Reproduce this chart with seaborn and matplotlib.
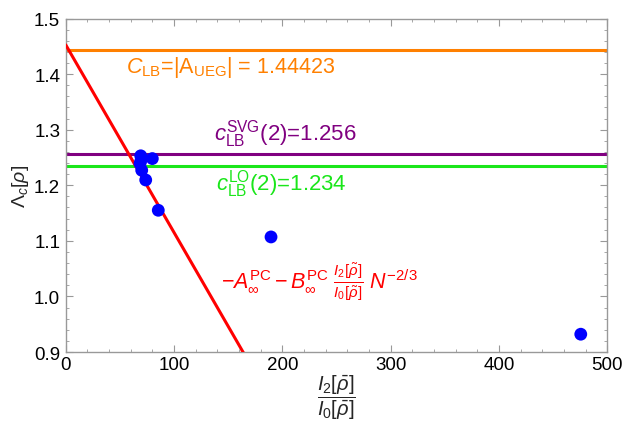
import matplotlib
matplotlib.use("Agg")
import matplotlib.pyplot as plt
import seaborn as sns
import pandas as pd
from matplotlib.ticker import MultipleLocator

# data
pts_x = [68.5, 69.2, 70.1, 73.8, 79.9, 85.4, 189.5, 475.5, 69.5]
pts_y = [1.239, 1.253, 1.227, 1.2095, 1.248, 1.155, 1.107, 0.932, 1.245]
fit_x = [0.0, 170.0]
fit_y = [1.4525, 0.8785]
hlines = {"orange": 1.44423, "purple": 1.256, "green": 1.234}
x_ticks = [0, 100, 200, 300, 400, 500]
y_ticks = [0.9, 1.0, 1.1, 1.2, 1.3, 1.4, 1.5]

sns.set_theme(style="ticks")
plt.rcParams["font.family"] = ["Liberation Sans", "DejaVu Sans"]
plt.rcParams["mathtext.fontset"] = "custom"
plt.rcParams["mathtext.rm"] = "Liberation Sans"
plt.rcParams["mathtext.it"] = "Liberation Sans:italic"
plt.rcParams["mathtext.bf"] = "Liberation Sans:bold"

fig = plt.figure(figsize=(6.23, 4.27), dpi=100)
ax = fig.add_axes([0.1056, 0.1733, 0.8692, 0.781])

C_OR = "#FF8000"
C_PU = "#800080"
C_GR = "#1AE61A"

ax.axhline(hlines["orange"], color=C_OR, lw=2.2, zorder=2)
ax.axhline(hlines["purple"], color=C_PU, lw=2.2, zorder=2)
ax.axhline(hlines["green"], color=C_GR, lw=2.2, zorder=2)

df_fit = pd.DataFrame({"x": fit_x, "y": fit_y})
sns.lineplot(data=df_fit, x="x", y="y", color="#FF0000", lw=2.2, ax=ax, zorder=3)

df = pd.DataFrame({"x": pts_x, "y": pts_y})
sns.scatterplot(data=df, x="x", y="y", color="#0000FF", s=85, edgecolor="none",
                ax=ax, zorder=4)

ax.set_xlim(0, 500)
ax.set_ylim(0.9, 1.5)
ax.set_xticks(x_ticks)
ax.set_yticks(y_ticks)
ax.set_xticklabels([str(v) for v in x_ticks])
ax.set_yticklabels([f"{v:.1f}" for v in y_ticks])
ax.xaxis.set_minor_locator(MultipleLocator(20))
ax.yaxis.set_minor_locator(MultipleLocator(0.02))
ax.tick_params(which="both", direction="in", top=True, right=True, color="#999999",
               labelsize=13.5, labelcolor="black")
ax.tick_params(axis="x", pad=3)
ax.tick_params(axis="y", pad=4)
ax.tick_params(which="major", length=5, width=0.8)
ax.tick_params(which="minor", length=2.5, width=0.6)
for sp in ax.spines.values():
    sp.set_color("#999999")
    sp.set_linewidth(1.0)

ax.set_xlabel(r"$\dfrac{I_2[\bar{\rho}]}{I_0[\bar{\rho}]}$", fontsize=14.5, labelpad=0)
ax.set_ylabel(r"$\Lambda_c[\rho]$", fontsize=14, labelpad=2)

ax.text(152, 1.413, r"$C_{\mathrm{LB}}$=|A$_{\mathrm{UEG}}$| = 1.44423", color=C_OR,
        fontsize=15.5, ha="center", va="center")
ax.text(203, 1.294, r"$c_{\mathrm{LB}}^{\mathrm{SVG}}$(2)=1.256", color=C_PU,
        fontsize=16, ha="center", va="center")
ax.text(199, 1.204, r"$c_{\mathrm{LB}}^{\mathrm{LO}}$(2)=1.234", color=C_GR,
        fontsize=16, ha="center", va="center")
ax.text(234, 1.027,
        r"$-A_{\infty}^{\mathrm{PC}} - B_{\infty}^{\mathrm{PC}}\ \frac{I_2[\tilde{\rho}]}{I_0[\tilde{\rho}]}\ N^{-2/3}$",
        color="#FF0000", fontsize=15.5, ha="center", va="center")

fig.savefig("out.png", dpi=100)
